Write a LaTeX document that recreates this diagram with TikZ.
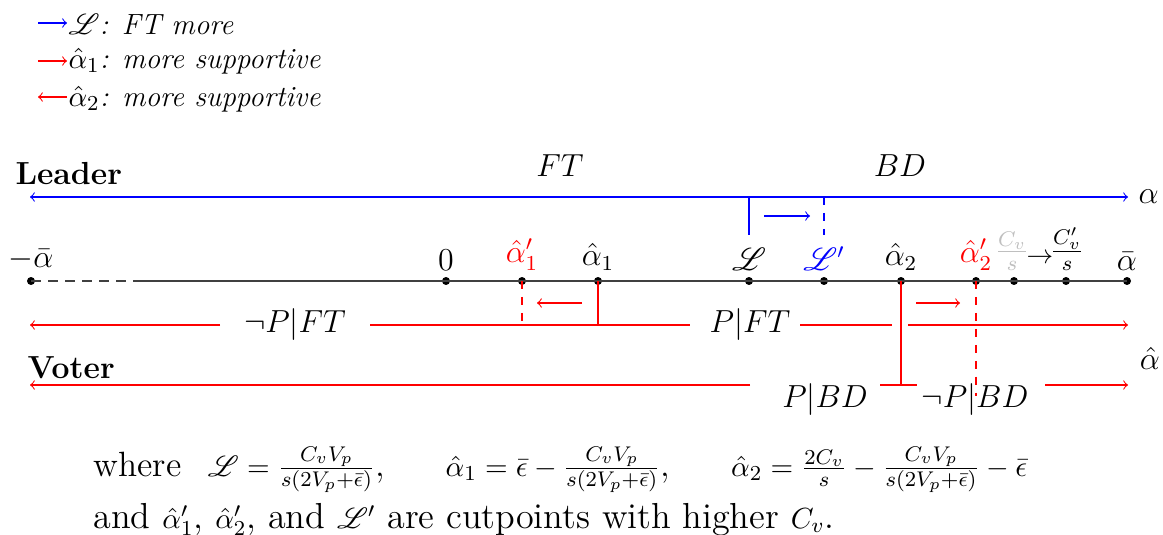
\documentclass[tikz,border=0pt]{standalone}
\usepackage{amsmath,amssymb,mathrsfs}
\newcommand\smm[1]{{\fontsize{11.3}{14}\selectfont$#1$}}
\begin{document}
\begin{tikzpicture}[x=0.376pt,y=-0.376pt,
  lbl/.style={font=\large,inner sep=0pt},
  legtxt/.style={font=\fontsize{11}{13}\selectfont,inner sep=0pt},
  bottxt/.style={font=\fontsize{13.2}{16}\selectfont,inner sep=0pt},
  bottxtb/.style={font=\fontsize{13.6}{16}\selectfont,inner sep=0pt},
  dotpt/.style={circle,fill=black,inner sep=0pt,minimum size=3pt},
  axis/.style={black!75,line width=0.6pt},
  bl/.style={blue,line width=0.4pt},
  rd/.style={red,line width=0.4pt},
  rdash/.style={red,line width=0.4pt,dashed},
  bdash/.style={blue,line width=0.4pt,dashed}]
\useasboundingbox (0,0) rectangle (1163,535);
% legend
\coordinate (g1a) at (38,23); \coordinate (g1b) at (67,23);
\coordinate (g2a) at (38,61); \coordinate (g2b) at (67,61);
\coordinate (g3a) at (67,97); \coordinate (g3b) at (38,97);
\draw[bl,->] (g1a) -- (g1b);
\draw[rd,->] (g2a) -- (g2b);
\draw[rd,->] (g3a) -- (g3b);
\node[legtxt,anchor=west] (leg1) at (68,24) {$\mathscr{L}$\textit{: FT more}};
\node[legtxt,anchor=west] (leg2) at (68,61) {$\hat\alpha_1$\textit{: more supportive}};
\node[legtxt,anchor=west] (leg3) at (68,99) {$\hat\alpha_2$\textit{: more supportive}};
% leader
\node[lbl,anchor=west] (leader) at (15,174) {\textbf{Leader}};
\node[lbl] (ft) at (560,166) {$FT$};
\node[lbl] (bd) at (900,166) {$BD$};
\coordinate (bL) at (30,197);
\coordinate (bR) at (1128,197);
\draw[bl,<->] (bL) -- (bR);
\node[lbl,anchor=west] (alpha) at (1138,197) {$\alpha$};
% axis points
\node[dotpt] (pA) at (31,281) {};
\coordinate (pDash) at (143,281);
\node[dotpt] (p0) at (446,281) {};
\node[dotpt] (pa1p) at (522,281) {};
\node[dotpt] (pa1) at (598,281) {};
\node[dotpt] (pL) at (749,281) {};
\node[dotpt] (pLp) at (824,281) {};
\node[dotpt] (pa2) at (901,281) {};
\node[dotpt] (pa2p) at (976,281) {};
\node[dotpt] (pcv) at (1014,281) {};
\node[dotpt] (pcvp) at (1066,281) {};
\node[dotpt] (pAb) at (1127,281) {};
\draw[axis,dash pattern=on 3.6pt off 2.8pt] (pA.center) -- (pDash);
\draw[axis] (pDash) -- (pAb.center);
% axis labels
\node[lbl,anchor=south] (lA) at (31,271) {$-\bar\alpha$};
\node[lbl,anchor=south] (l0) at (446,271) {$0$};
\node[lbl,anchor=south,red] (la1p) at (522,271) {$\hat\alpha_1'$};
\node[lbl,anchor=south] (la1) at (598,271) {$\hat\alpha_1$};
\node[lbl,anchor=south] (lL) at (749,271) {$\mathscr{L}$};
\node[lbl,anchor=south,blue] (lLp) at (824,271) {$\mathscr{L}'$};
\node[lbl,anchor=south] (la2) at (901,271) {$\hat\alpha_2$};
\node[lbl,anchor=south,red] (la2p) at (976,271) {$\hat\alpha_2'$};
\node[lbl,anchor=south,black!25] (lcv) at (1012,271) {$\frac{C_v}{s}$};
\node[inner sep=0pt] (larr) at (1040,259) {$\rightarrow$};
\node[lbl,anchor=south] (lcvp) at (1067,271) {$\frac{C_v'}{s}$};
\node[lbl,anchor=south] (lAb) at (1127,271) {$\bar\alpha$};
% leader cutpoints
\coordinate (Ltop) at (749,197);
\coordinate (Lbot) at (749,235);
\coordinate (Lptop) at (824,197);
\coordinate (Lpbot) at (824,235);
\draw[bl] (Ltop) -- (Lbot);
\draw[bdash] (Lptop) -- (Lpbot);
\coordinate (ba1) at (764,216);
\coordinate (ba2) at (810,216);
\draw[bl,->] (ba1) -- (ba2);
% voter line 1 (alpha1)
\coordinate (v1a) at (598,325);
\coordinate (v1l1) at (370,325);
\coordinate (v1l2) at (220,325);
\coordinate (v1le) at (30,325);
\coordinate (v1r1) at (690,325);
\coordinate (v1r2) at (800,325);
\coordinate (v1r3) at (892,325);
\coordinate (v1r4) at (908,325);
\coordinate (v1re) at (1128,325);
\draw[rd] (pa1.center) -- (v1a);
\draw[rd] (v1a) -- (v1l1);
\draw[rd,->] (v1l2) -- (v1le);
\draw[rd] (v1a) -- (v1r1);
\draw[rd] (v1r2) -- (v1r3);
\draw[rd,->] (v1r4) -- (v1re);
\node[lbl] (nPFT) at (295,325) {$\neg P|FT$};
\node[lbl] (PFT) at (750,325) {$P|FT$};
% voter line 2 (alpha2)
\coordinate (v2a) at (901,385);
\coordinate (v2l1) at (880,385);
\coordinate (v2l2) at (750,385);
\coordinate (v2le) at (30,385);
\coordinate (v2r1) at (917,385);
\coordinate (v2r2) at (1045,385);
\coordinate (v2re) at (1128,385);
\draw[rd] (pa2.center) -- (v2a);
\draw[rd] (v2a) -- (v2l1);
\draw[rd,->] (v2l2) -- (v2le);
\draw[rd] (v2a) -- (v2r1);
\draw[rd,->] (v2r2) -- (v2re);
\node[lbl] (PBD) at (825,400) {$P|BD$};
\node[lbl] (nPBD) at (975,400) {$\neg P|BD$};
% dashed shifted cutpoints
\coordinate (a1pb) at (522,322);
\coordinate (a2pb) at (976,396);
\draw[rdash] (pa1p.center) -- (a1pb);
\draw[rdash] (pa2p.center) -- (a2pb);
\coordinate (ra1) at (582,303);
\coordinate (ra2) at (537,303);
\draw[rd,->] (ra1) -- (ra2);
\coordinate (ra3) at (916,303);
\coordinate (ra4) at (960,303);
\draw[rd,->] (ra3) -- (ra4);
\node[lbl] (ahat) at (1150,358) {$\hat\alpha$};
\node[lbl,anchor=west] (voter) at (27,368) {\textbf{Voter}};
% bottom text
\node[bottxt,anchor=base west] (where) at (93,476) {where\hspace{10pt}\smm{\mathscr{L}=\frac{C_vV_p}{s(2V_p+\bar\epsilon)}},\hspace{23pt}\smm{\hat\alpha_1=\bar\epsilon-\frac{C_vV_p}{s(2V_p+\bar\epsilon)}},\hspace{23pt}\smm{\hat\alpha_2=\frac{2C_v}{s}-\frac{C_vV_p}{s(2V_p+\bar\epsilon)}-\bar\epsilon}};
\node[bottxtb,anchor=base west] (andtxt) at (93,528) {and \smm{\hat\alpha_1'}, \smm{\hat\alpha_2'}, and \smm{\mathscr{L}'} are cutpoints with higher \smm{C_v}.};
\end{tikzpicture}
\end{document}
